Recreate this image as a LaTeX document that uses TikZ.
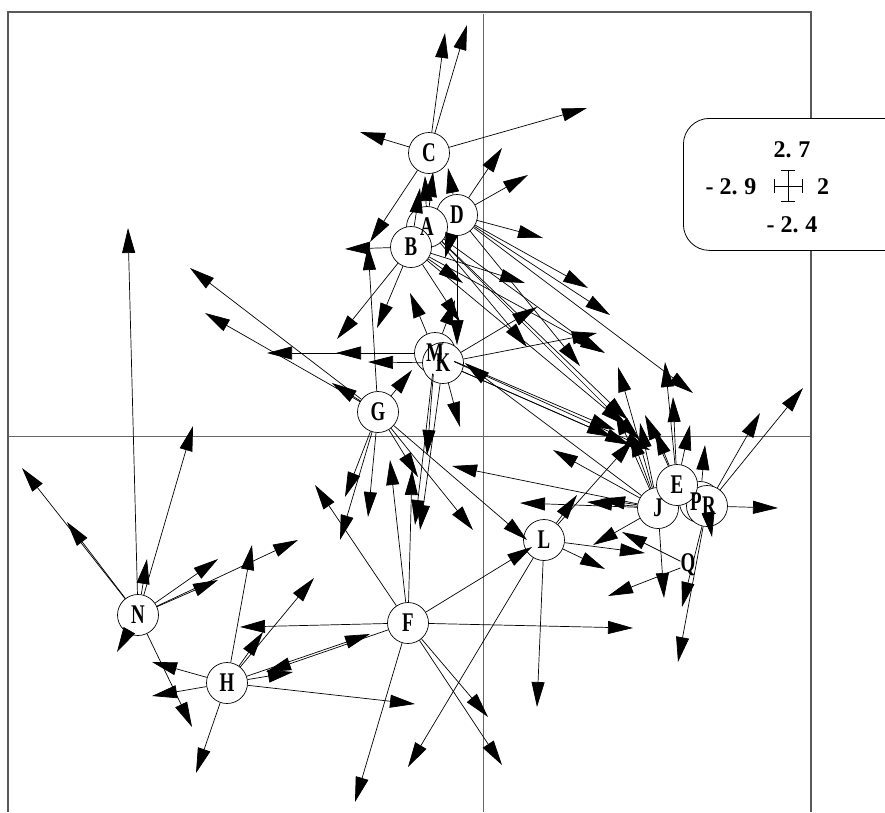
\documentclass[tikz,border=0pt]{standalone}
\usepackage{fontspec}
\usepackage{graphicx}
\setmainfont{Liberation Serif}
\usetikzlibrary{arrows.meta}
\newcommand{\nlab}[1]{\scalebox{0.7}[1]{#1}}
\begin{document}
\begin{tikzpicture}[x=1pt,y=-1pt,
  ring/.style={circle,draw,fill=white,minimum size=41pt,inner sep=0pt,line width=0.7pt},
  lab/.style={inner sep=0pt,font=\fontsize{27}{27}\selectfont\bfseries},
  arr/.style={-{Triangle[length=25pt,width=13pt]},line width=0.7pt},
  frameline/.style={draw=black!65,line width=1.3pt},
  axisline/.style={draw=black!60,line width=1pt},
  legbox/.style={draw,fill=white,rounded corners=26pt,line width=0.8pt},
  legtext/.style={inner sep=0pt,font=\fontsize{24}{24}\selectfont\bfseries}]
\useasboundingbox (0,0) rectangle (885,812);
% frame and axes
\draw[frameline] (8,812) -- (8,12) -- (811,12) -- (811,812);
\draw[axisline] (483,14) -- (483,812);
\draw[axisline] (9,436) -- (810,436);
% circles
\node[ring] (C) at (429,153) {};
\node[ring] (D) at (457,215) {};
\node[ring] (A) at (427,227) {};
\node[ring] (B) at (411,247) {};
\node[ring] (M) at (435,353) {};
\node[ring] (K) at (443,363) {};
\node[ring] (G) at (378,412) {};
\node[ring] (L) at (544,540) {};
\node[ring] (F) at (408,623) {};
\node[ring] (N) at (138,615) {};
\node[ring] (H) at (227,683) {};
\node[ring] (J) at (658,508) {};
\node[ring] (P) at (700,502) {};
\node[ring] (R) at (707,506) {};
\node[ring] (E) at (677,485) {};
\node[lab] (Q) at (688,565) {\nlab{Q}};
% arrows
\foreach \s/\x/\y [count=\i] in {
 C/445/33, C/467/25, C/587/108, C/360/132, C/370/242,
 D/502/148, D/528/175, D/543/238, D/588/288, D/610/315, D/693/393, D/580/366, D/457/345, D/445/258, D/448/168,
 A/425/176, A/433/172, A/527/347, A/600/352, A/640/440, A/628/420,
 B/345/249, B/420/188, B/337/339, B/377/328, B/463/283, B/525/283, B/605/353, B/460/322, B/625/425,
 M/267/353, M/336/353, M/410/293, M/455/300, M/427/455, M/415/525, M/615/430, M/650/450,
 K/368/362, K/537/307, K/597/333, K/460/427, K/420/530, K/630/445, K/612/437,
 G/190/268, G/205/313, G/332/383, G/368/245, G/412/370, G/345/497, G/368/517, G/418/477, G/473/530, G/527/540, G/340/540,
 F/315/485, F/390/460, F/412/470, F/532/547, F/633/628, F/488/717, F/502/765, F/355/802, F/240/627, F/266/672,
 L/577/495, L/633/440, L/645/553, L/605/569, L/537/707, L/408/767,
 N/128/228, N/22/468, N/67/522, N/193/426, N/147/559, N/218/559, N/218/580, N/298/540, N/117/652, N/192/727,
 H/252/545, H/314/578, H/263/632, H/370/634, H/293/672, H/415/704, H/152/662, H/152/696, H/196/773,
 J/618/367, J/553/450, J/465/363, J/452/466, J/520/503, J/587/502, J/600/499, J/593/545, J/664/598, J/640/423, J/615/410, J/630/432,
 E/665/362, E/673/397, E/690/425, E/655/430, E/645/415,
 R/803/388, R/760/413, R/778/508, R/682/607, R/678/662, R/712/537,
 P/705/445,
 Q/622/532, Q/608/596}
 {\coordinate (t\i) at (\x,\y); \draw[arr] (\s) -- (t\i);}
% labels
\foreach \n in {C,D,A,B,M,K,G,L,F,N,H,J,E}
 {\node[lab] (l\n) at (\n) {\nlab{\n}};}
\node[lab] (lP) at ([xshift=-4pt]P) {\nlab{P}};
\node[lab] (lR) at ([xshift=2pt]R) {\nlab{R}};
% legend
\node[legbox,minimum width=230pt,minimum height=132pt,anchor=north west] (leg) at (683,118) {};
\node[legtext] (v1) at (792,150) {2.\hspace{7pt}7};
\node[legtext] (v2) at (731,187) {-\hspace{6pt}2.\hspace{7pt}9};
\node[legtext] (v3) at (823,187) {2};
\node[legtext] (v4) at (792,225) {-\hspace{6pt}2.\hspace{7pt}4};
\coordinate (cl) at (774,186); \coordinate (cr) at (802,186);
\coordinate (ct) at (788,170); \coordinate (cb) at (788,201);
\draw[line width=0.8pt] (cl) -- (cr) (ct) -- (cb)
  ([yshift=-7pt]cl) -- ([yshift=7pt]cl) ([yshift=-7pt]cr) -- ([yshift=7pt]cr)
  ([xshift=-7pt]ct) -- ([xshift=7pt]ct) ([xshift=-7pt]cb) -- ([xshift=7pt]cb);
\end{tikzpicture}
\end{document}
